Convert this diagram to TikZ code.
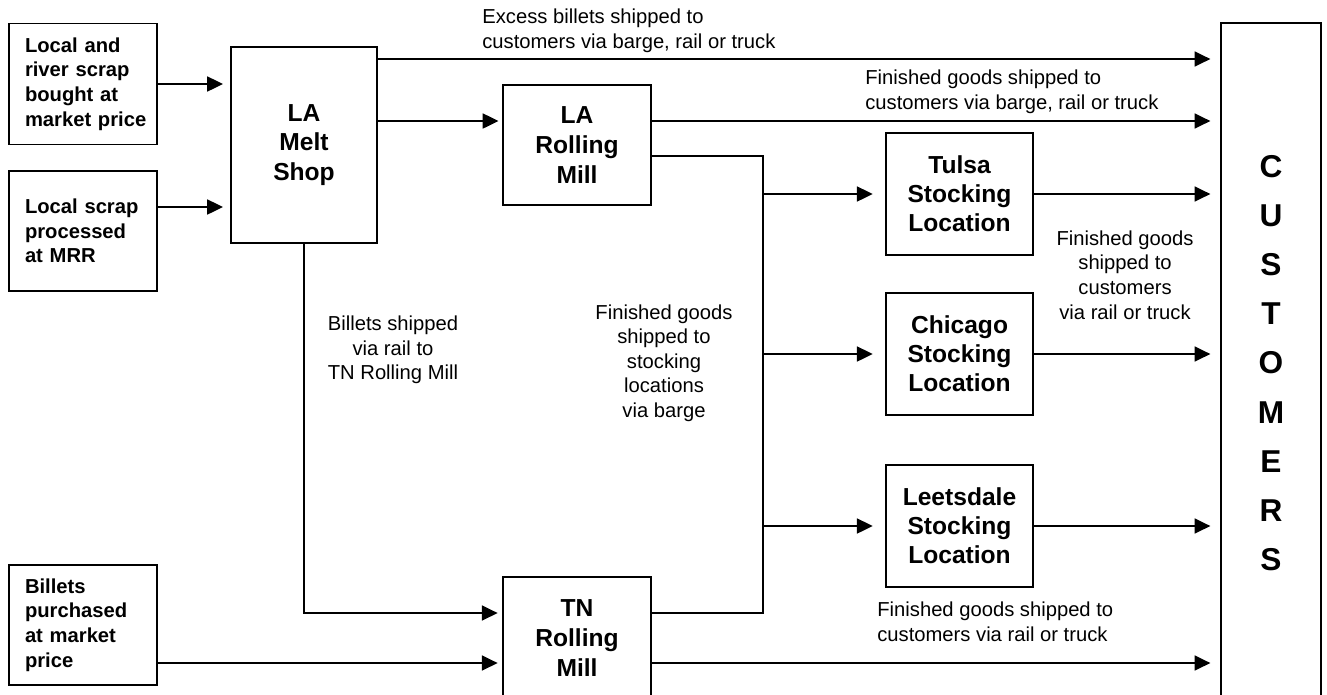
\documentclass[tikz,border=0pt]{standalone}
\usepackage{fontspec}
\setmainfont{Liberation Sans}
\usetikzlibrary{arrows.meta,calc}

\begin{document}
\begin{tikzpicture}[
  x=0.02cm, y=-0.02cm,
  src/.style={draw, line width=1.1pt, align=left, text width=2.32cm, inner xsep=0.32cm, minimum height=2.42cm, font=\fontsize{11.5}{14}\selectfont\bfseries},
  plant/.style={draw, line width=1.1pt, align=center, minimum width=2.96cm, minimum height=2.44cm, font=\fontsize{14}{16.5}\selectfont\bfseries},
  arrow/.style={-{Triangle[length=9pt, width=8.5pt]}, line width=1.1pt, shorten >=4pt},
  route/.style={line width=1.1pt},
  label/.style={font=\fontsize{11.5}{14}\selectfont, inner sep=0pt},
]
\useasboundingbox (0,0) rectangle (1327,694);

% === Sources ===
\node[src] (scrapRiver) at (83,84) {Local and\\river scrap\\bought at\\market~price};
\node[src, minimum height=2.4cm] (scrapMRR) at (83,231) {Local scrap\\processed\\at MRR};
\node[src, minimum height=2.4cm] (billetsBuy) at (83,625) {Billets\\purchased\\at market\\price};

% === Plants ===
\node[plant, minimum width=2.92cm, minimum height=3.92cm, font=\fontsize{14}{17}\selectfont\bfseries] (melt) at (304,145) {LA\\Melt\\Shop};
\node[plant, minimum height=2.4cm, font=\fontsize{14}{17}\selectfont\bfseries] (laMill) at (577,145) {LA\\Rolling\\Mill};
\node[plant, font=\fontsize{14}{17}\selectfont\bfseries] (tnMill) at (577,638) {TN\\Rolling\\Mill};

% === Stocking locations ===
\node[plant, minimum width=2.94cm] (tulsa) at (959.5,194) {Tulsa\\Stocking\\Location};
\node[plant, minimum width=2.94cm] (chicago) at (959.5,354) {Chicago\\Stocking\\Location};
\node[plant, minimum width=2.94cm] (leets) at (959.5,526) {Leetsdale\\Stocking\\Location};

% === Customers ===
\node[plant, minimum width=2cm, minimum height=13.6cm, font=\fontsize{18}{28}\selectfont\bfseries] (cust) at (1271,363) {C\\U\\S\\T\\O\\M\\E\\R\\S};

% === Line levels ===
\coordinate (excessY) at (0,59);
\coordinate (laY) at (0,121);
\coordinate (mrrY) at (0,207);
\coordinate (bus) at (763,156);
\coordinate (tnY) at (0,613);
\coordinate (buyY) at (0,663);

% === Scrap into melt shop ===
\draw[arrow] (scrapRiver.east) -- (scrapRiver.east -| melt.west);
\draw[arrow] (scrapMRR.east |- mrrY) -- (melt.west |- mrrY);

% === Billets out of melt shop ===
\draw[arrow, shorten >=5.5pt] (melt.east |- excessY) -- (cust.west |- excessY);
\draw[arrow, shorten >=2pt] (melt.east |- laY) -- (laMill.west |- laY);
\draw[arrow, shorten >=2.5pt] (melt.south) |- (tnMill.west |- tnY);
\draw[arrow, shorten >=2.5pt] (billetsBuy.east |- buyY) -- (tnMill.west |- buyY);

% === Rolling mills ===
\draw[arrow, shorten >=5.5pt] (laMill.east |- laY) -- (cust.west |- laY);
\draw[route] (laMill.east |- bus) -- (bus) -- (bus |- tnY) -- (tnMill.east |- tnY);
\draw[arrow, shorten >=5.5pt] (tnMill.east |- buyY) -- (cust.west |- buyY);

% === Barge to stocking locations ===
\draw[arrow, shorten >=7pt] (bus |- tulsa.west) -- (tulsa.west);
\draw[arrow, shorten >=7pt] (bus |- chicago.west) -- (chicago.west);
\draw[arrow, shorten >=7pt] (bus |- leets.west) -- (leets.west);

% === Stocking locations to customers ===
\draw[arrow, shorten >=5.5pt] (tulsa.east) -- (tulsa.east -| cust.west);
\draw[arrow, shorten >=5.5pt] (chicago.east) -- (chicago.east -| cust.west);
\draw[arrow, shorten >=5.5pt] (leets.east) -- (leets.east -| cust.west);

% === Route labels ===
\node[label, anchor=west, align=left] (excessTxt) at (482,31) {Excess billets shipped to\\customers via barge, rail or truck};
\node[label, anchor=west, align=left] (laTxt) at (865,92) {Finished goods shipped to\\customers via barge, rail or truck};
\node[label, align=center] (stockTxt) at (1125,275) {Finished goods\\shipped to\\customers\\via rail or truck};
\node[label, anchor=west, align=left] (tnTxt) at (877,622) {Finished goods shipped to\\customers via rail or truck};
\node[label, align=center] (railTxt) at (393,350) {Billets shipped\\via rail to\\TN Rolling Mill};
\node[label, align=center] (bargeTxt) at (664,363) {Finished goods\\shipped to\\stocking\\locations\\via barge};

\end{tikzpicture}
\end{document}
